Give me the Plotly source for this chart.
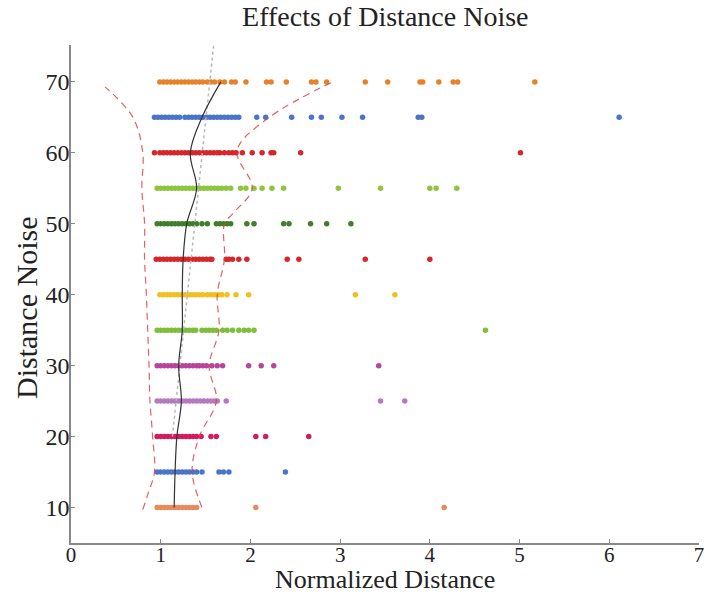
import plotly.graph_objects as go

# ---- data ----
noise_levels = [70, 65, 60, 55, 50, 45, 40, 35, 30, 25, 20, 15, 10]
row_colors = ['#E8822A', '#4A74C8', '#D7262B', '#8CC63F', '#3F7F2A', '#D7262B', '#F0C020',
              '#7DBE3A', '#B8449E', '#B679C0', '#D41B5F', '#4A74C8', '#E88A5A']

x70 = [0.99, 1.03, 1.07, 1.11, 1.15, 1.19, 1.23, 1.27, 1.31, 1.35, 1.39, 1.43, 1.47, 1.52, 1.56,
       1.60, 1.66, 1.71, 1.79, 1.83, 1.95, 2.18, 2.23, 2.40, 2.68, 2.73, 2.85, 3.28, 3.53, 3.89,
       3.92, 4.10, 4.26, 4.31, 5.17]
x65 = [0.93, 0.97, 1.01, 1.05, 1.09, 1.13, 1.17, 1.21, 1.27, 1.31, 1.35, 1.39, 1.43, 1.47, 1.51,
       1.55, 1.59, 1.63, 1.67, 1.71, 1.75, 1.79, 1.83, 1.87, 2.07, 2.17, 2.46, 2.68, 2.79, 3.02,
       3.25, 3.87, 3.91, 6.11]
x60 = [0.93, 0.99, 1.03, 1.07, 1.11, 1.15, 1.19, 1.23, 1.27, 1.31, 1.35, 1.39, 1.43, 1.47, 1.51,
       1.55, 1.59, 1.63, 1.66, 1.71, 1.76, 1.80, 1.84, 1.91, 2.02, 2.13, 2.23, 2.26, 2.56, 5.01]
x55 = [0.96, 1.00, 1.04, 1.08, 1.12, 1.16, 1.20, 1.24, 1.28, 1.32, 1.36, 1.40, 1.44, 1.48, 1.52,
       1.56, 1.60, 1.64, 1.68, 1.73, 1.78, 1.89, 1.95, 2.04, 2.13, 2.24, 2.37, 2.98, 3.45, 4.00,
       4.07, 4.30]
x50 = [0.96, 1.00, 1.04, 1.08, 1.12, 1.16, 1.20, 1.24, 1.28, 1.32, 1.36, 1.40, 1.46, 1.52, 1.62,
       1.66, 1.70, 1.74, 1.78, 1.96, 2.04, 2.37, 2.43, 2.67, 2.85, 3.12]
x45 = [0.95, 0.99, 1.03, 1.07, 1.11, 1.15, 1.19, 1.23, 1.27, 1.31, 1.35, 1.39, 1.43, 1.47, 1.51,
       1.55, 1.57, 1.73, 1.76, 1.80, 1.87, 1.96, 2.41, 2.54, 3.28, 4.00]
x40 = [0.99, 1.03, 1.07, 1.11, 1.15, 1.19, 1.23, 1.27, 1.31, 1.35, 1.39, 1.43, 1.47, 1.52, 1.56,
       1.60, 1.64, 1.68, 1.74, 1.84, 1.98, 3.17, 3.61]
x35 = [0.96, 1.00, 1.04, 1.08, 1.12, 1.16, 1.20, 1.24, 1.28, 1.32, 1.36, 1.39, 1.46, 1.50, 1.54,
       1.58, 1.62, 1.69, 1.74, 1.80, 1.87, 1.93, 1.98, 2.04, 4.62]
x30 = [0.96, 1.00, 1.04, 1.08, 1.12, 1.16, 1.20, 1.24, 1.28, 1.32, 1.36, 1.40, 1.43, 1.47, 1.51,
       1.57, 1.63, 1.69, 1.98, 2.12, 2.26, 3.43]
x25 = [0.96, 1.00, 1.04, 1.08, 1.12, 1.16, 1.20, 1.24, 1.28, 1.32, 1.36, 1.40, 1.44, 1.48, 1.52,
       1.56, 1.60, 1.63, 1.73, 3.45, 3.72]
x20 = [0.96, 1.00, 1.04, 1.08, 1.12, 1.16, 1.20, 1.24, 1.28, 1.32, 1.36, 1.40, 1.45, 1.56, 1.62,
       2.06, 2.17, 2.65]
x15 = [0.96, 1.00, 1.04, 1.08, 1.12, 1.16, 1.20, 1.24, 1.28, 1.32, 1.36, 1.40, 1.46, 1.65, 1.70,
       1.76, 2.39]
x10 = [0.96, 1.00, 1.04, 1.08, 1.12, 1.16, 1.20, 1.24, 1.28, 1.32, 1.36, 1.40, 2.06, 4.16]

rows = [x70, x65, x60, x55, x50, x45, x40, x35, x30, x25, x20, x15, x10]

median_y = [10, 15, 20, 25, 30, 35, 40, 45, 50, 55, 60, 65, 70]
median_x = [1.15, 1.16, 1.18, 1.23, 1.20, 1.24, 1.24, 1.25, 1.29, 1.40, 1.33, 1.46, 1.67]

left_env_y = [9.7, 12, 15, 20, 25, 30, 35, 40, 45, 50, 55, 60, 65, 69.3]
left_env_x = [0.80, 0.86, 0.93, 0.91, 0.88, 0.87, 0.855, 0.84, 0.82, 0.82, 0.79, 0.80, 0.69, 0.38]

right_env_y = [10, 15, 20, 25, 30, 35, 40, 45, 50, 51.4, 55, 60.3, 65, 70.2]
right_env_x = [1.46, 1.35, 1.43, 1.62, 1.54, 1.65, 1.63, 1.71, 1.71, 1.80, 2.02, 1.85, 2.21, 2.95]

trend_y = [20, 75.2]
trend_x = [1.13, 1.59]

x_ticks = [0, 1, 2, 3, 4, 5, 6, 7]
y_ticks = [10, 20, 30, 40, 50, 60, 70]

# ---- figure ----
fig = go.Figure()

for lvl, col, xs in zip(noise_levels, row_colors, rows):
    fig.add_trace(go.Scatter(x=xs, y=[lvl] * len(xs), mode='markers',
                             marker=dict(color=col, size=5.5, line=dict(width=0)),
                             showlegend=False, hoverinfo='x+y'))

fig.add_trace(go.Scatter(x=trend_x, y=trend_y, mode='lines',
                         line=dict(color='#B8B8B8', width=1.5, dash='dot'), showlegend=False))
fig.add_trace(go.Scatter(x=left_env_x, y=left_env_y, mode='lines',
                         line=dict(color='rgba(220,60,60,0.8)', width=1.2, dash='7px,5px',
                                   shape='spline', smoothing=1.0), showlegend=False))
fig.add_trace(go.Scatter(x=right_env_x, y=right_env_y, mode='lines',
                         line=dict(color='rgba(220,60,60,0.8)', width=1.2, dash='7px,5px',
                                   shape='spline', smoothing=1.0), showlegend=False))
fig.add_trace(go.Scatter(x=median_x, y=median_y, mode='lines',
                         line=dict(color='#333333', width=1.2, shape='spline', smoothing=1.0),
                         showlegend=False))

serif = 'Liberation Serif, Times New Roman, serif'

fig.update_layout(
    width=707, height=596,
    margin=dict(l=71, r=8, t=45, b=53),
    paper_bgcolor='white', plot_bgcolor='white',
    font=dict(family=serif, color='#222222'),
    title=dict(text='Effects of Distance Noise', x=0.545, xanchor='center',
               y=0.973, yanchor='middle', yref='container',
               font=dict(family=serif, size=28, color='#222222')),
    showlegend=False,
    annotations=[
        dict(text='Normalized Distance', xref='paper', yref='paper', x=0.5, y=-0.074,
             xanchor='center', yanchor='middle', showarrow=False,
             font=dict(family=serif, size=26, color='#222222')),
        dict(text='Distance Noise', xref='paper', yref='paper', x=-0.07, y=0.472,
             xanchor='center', yanchor='middle', showarrow=False, textangle=-90,
             font=dict(family=serif, size=30, color='#222222')),
    ],
)

fig.update_xaxes(range=[0, 7], tickvals=x_ticks, ticks='inside', ticklen=4,
                 tickcolor='#888888', showline=True, linecolor='#888888', linewidth=1.5,
                 showgrid=False, zeroline=False, mirror=False, automargin=False,
                 ticklabelstandoff=-8,
                 tickfont=dict(family=serif, size=21, color='#222222'))
fig.update_yaxes(range=[5, 75.2], tickvals=y_ticks, ticks='inside', ticklen=4,
                 tickcolor='#888888', showline=True, linecolor='#888888', linewidth=1.5,
                 showgrid=False, zeroline=False, mirror=False, automargin=False,
                 ticklabelstandoff=-5,
                 tickfont=dict(family=serif, size=24, color='#222222'))

fig.write_html('out.html', config={'displayModeBar': False},
               post_script="document.body.style.margin='0';")
